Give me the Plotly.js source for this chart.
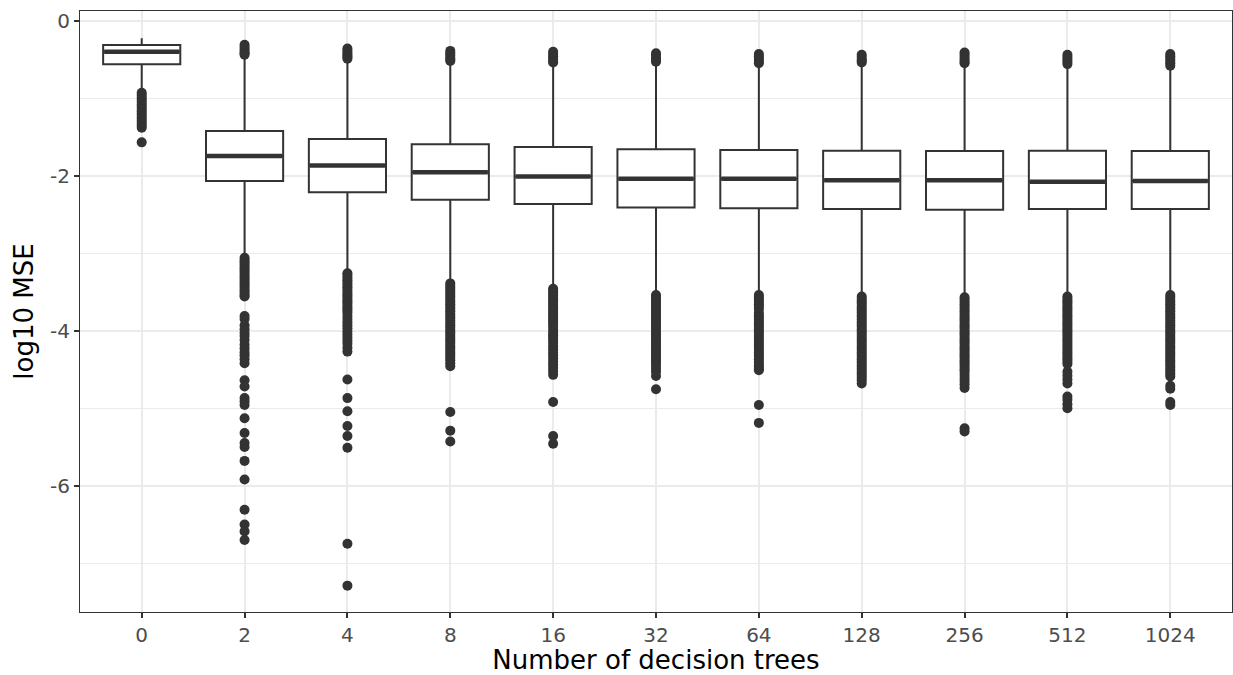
<!DOCTYPE html>
<html>
<head>
<meta charset="utf-8">
<script src="https://cdn.plot.ly/plotly-3.0.1.min.js"></script>
<style>html,body{margin:0;padding:0;background:#fff;}#chart{width:1233px;height:675px;}</style>
</head>
<body>
<div id="chart"></div>
<script>
// ---- data ----
const categories = ["0","2","4","8","16","32","64","128","256","512","1024"];
const q1 =       [-0.553, -2.06, -2.205, -2.30, -2.355, -2.40, -2.41, -2.42, -2.43, -2.42, -2.42];
const medians =  [-0.39, -1.735, -1.86, -1.946, -2.00, -2.028, -2.03, -2.05, -2.05, -2.067, -2.06];
const q3 =       [-0.303, -1.413, -1.516, -1.585, -1.62, -1.65, -1.66, -1.667, -1.67, -1.667, -1.67];
const lowerWhisker = [-0.86, -3.00, -3.20, -3.33, -3.40, -3.48, -3.48, -3.50, -3.51, -3.50, -3.48];
const upperWhisker = [-0.217, -0.47, -0.52, -0.55, -0.57, -0.56, -0.58, -0.57, -0.58, -0.59, -0.61];

const outliers = [
  // 0
  [-0.92,-0.95,-0.98,-1.01,-1.04,-1.07,-1.10,-1.13,-1.16,-1.19,-1.22,-1.25,-1.28,-1.31,-1.34,-1.37,-1.56],
  // 2
  [-0.30,-0.33,-0.36,-0.39,-0.41,-0.43,
   -3.05,-3.08,-3.11,-3.14,-3.17,-3.20,-3.23,-3.26,-3.29,-3.32,-3.35,-3.38,-3.41,-3.44,-3.47,-3.50,-3.53,-3.55,
   -3.80,-3.84,-3.92,-3.97,-4.02,-4.06,-4.11,-4.17,-4.22,-4.27,-4.31,-4.36,-4.41,
   -4.63,-4.71,-4.86,-4.90,-4.95,-5.12,-5.31,-5.44,-5.49,-5.67,-5.91,-6.30,-6.49,-6.58,-6.69],
  // 4
  [-0.35,-0.38,-0.41,-0.44,-0.46,-0.48,
   -3.25,-3.28,-3.31,-3.34,-3.37,-3.40,-3.43,-3.46,-3.49,-3.52,-3.55,-3.58,-3.61,-3.64,-3.67,-3.70,-3.73,-3.76,-3.80,-3.84,-3.88,-3.92,-3.96,-4.00,-4.04,-4.08,-4.12,-4.16,-4.21,-4.26,
   -4.62,-4.86,-5.03,-5.22,-5.35,-5.50,-6.74,-7.28],
  // 8
  [-0.38,-0.41,-0.44,-0.47,-0.49,-0.51,
   -3.38,-3.41,-3.44,-3.47,-3.50,-3.53,-3.56,-3.59,-3.62,-3.65,-3.68,-3.71,-3.74,-3.77,-3.80,-3.83,-3.86,-3.89,-3.92,-3.95,-3.98,-4.01,-4.04,-4.07,-4.10,-4.13,-4.16,-4.19,-4.22,-4.25,-4.28,-4.31,-4.34,-4.37,-4.41,-4.45,
   -5.04,-5.28,-5.42],
  // 16
  [-0.39,-0.42,-0.45,-0.48,-0.51,-0.53,
   -3.45,-3.48,-3.51,-3.54,-3.57,-3.60,-3.63,-3.66,-3.69,-3.72,-3.75,-3.78,-3.81,-3.84,-3.87,-3.90,-3.94,-3.98,-4.02,-4.05,-4.08,-4.11,-4.15,-4.19,-4.23,-4.27,-4.31,-4.35,-4.39,-4.43,-4.47,-4.51,-4.56,
   -4.91,-5.35,-5.45],
  // 32
  [-0.41,-0.44,-0.47,-0.50,-0.52,
   -3.53,-3.56,-3.59,-3.62,-3.65,-3.68,-3.71,-3.74,-3.77,-3.80,-3.83,-3.86,-3.89,-3.92,-3.95,-3.98,-4.01,-4.04,-4.07,-4.10,-4.13,-4.16,-4.19,-4.22,-4.25,-4.28,-4.31,-4.34,-4.37,-4.40,-4.44,-4.48,-4.52,-4.575,-4.745],
  // 64
  [-0.42,-0.45,-0.48,-0.51,-0.54,
   -3.53,-3.56,-3.59,-3.62,-3.65,-3.68,-3.71,-3.76,-3.79,-3.82,-3.85,-3.88,-3.91,-3.94,-3.97,-4.00,-4.03,-4.06,-4.09,-4.12,-4.15,-4.18,-4.21,-4.24,-4.27,-4.30,-4.33,-4.36,-4.39,-4.42,-4.45,-4.48,-4.50,
   -4.95,-5.18],
  // 128
  [-0.43,-0.46,-0.49,-0.51,-0.53,
   -3.55,-3.58,-3.61,-3.64,-3.67,-3.70,-3.73,-3.76,-3.79,-3.82,-3.85,-3.88,-3.91,-3.94,-3.97,-4.00,-4.03,-4.06,-4.09,-4.12,-4.15,-4.18,-4.21,-4.24,-4.27,-4.30,-4.33,-4.36,-4.39,-4.42,-4.45,-4.48,-4.51,-4.54,-4.57,-4.60,-4.63,-4.67],
  // 256
  [-0.40,-0.43,-0.46,-0.49,-0.52,-0.54,
   -3.56,-3.59,-3.62,-3.65,-3.68,-3.71,-3.74,-3.77,-3.80,-3.83,-3.86,-3.89,-3.92,-3.95,-3.98,-4.01,-4.04,-4.07,-4.10,-4.13,-4.16,-4.19,-4.22,-4.25,-4.28,-4.31,-4.34,-4.37,-4.40,-4.43,-4.46,-4.49,-4.52,-4.56,-4.60,-4.64,-4.68,-4.73,
   -5.25,-5.29],
  // 512
  [-0.43,-0.46,-0.49,-0.52,-0.55,
   -3.55,-3.58,-3.61,-3.64,-3.67,-3.70,-3.73,-3.76,-3.79,-3.82,-3.85,-3.88,-3.91,-3.94,-3.97,-4.00,-4.03,-4.06,-4.09,-4.12,-4.15,-4.18,-4.21,-4.24,-4.27,-4.30,-4.33,-4.36,-4.39,-4.42,
   -4.52,-4.57,-4.62,-4.67,-4.84,-4.88,-4.94,-4.99],
  // 1024
  [-0.42,-0.45,-0.48,-0.51,-0.54,-0.57,
   -3.53,-3.56,-3.59,-3.62,-3.65,-3.68,-3.71,-3.74,-3.77,-3.80,-3.83,-3.86,-3.89,-3.92,-3.95,-3.98,-4.01,-4.04,-4.07,-4.10,-4.13,-4.16,-4.19,-4.22,-4.25,-4.28,-4.31,-4.34,-4.37,-4.40,-4.43,-4.46,-4.49,-4.52,-4.55,-4.58,
   -4.70,-4.74,-4.91,-4.95]
];

const yTickVals = [-6, -4, -2, 0];
const yTickText = ["-6", "-4", "-2", "0"];
const yMinorVals = [-7, -5, -3, -1];

const xTitle = "Number of decision trees";
const yTitle = "log10 MSE";

// ---- drawing ----
const ink = "#333333";
const idx = categories.map((c, i) => i);
const boxWidth = 0.75;

const traces = [];

// outliers
const ox = [], oy = [];
outliers.forEach((arr, i) => arr.forEach(v => { ox.push(i); oy.push(v); }));
traces.push({
  type: "scatter", mode: "markers", x: ox, y: oy,
  marker: { color: ink, size: 10, line: { width: 0 } },
  hoverinfo: "y", showlegend: false
});

// boxes
traces.push({
  type: "box",
  x: idx,
  q1: q1, median: medians, q3: q3,
  lowerfence: lowerWhisker, upperfence: upperWhisker,
  width: boxWidth,
  whiskerwidth: 0,
  fillcolor: "#FFFFFF",
  line: { color: ink, width: 2 },
  boxpoints: false,
  showlegend: false
});

// thick median bars
const mx = [], my = [];
medians.forEach((m, i) => { mx.push(i - boxWidth / 2 + 0.01, i + boxWidth / 2 - 0.01, null); my.push(m, m, null); });
traces.push({
  type: "scatter", mode: "lines", x: mx, y: my,
  line: { color: ink, width: 4.5 }, hoverinfo: "skip", showlegend: false
});

const layout = {
  width: 1233, height: 675,
  margin: { l: 80, r: 1, t: 11, b: 63 },
  paper_bgcolor: "#FFFFFF", plot_bgcolor: "#FFFFFF",
  font: { family: "DejaVu Sans, sans-serif", color: "#4D4D4D" },
  showlegend: false,
  xaxis: {
    range: [-0.6, 10.6],
    tickmode: "array", tickvals: idx, ticktext: categories,
    tickfont: { size: 20, color: "#4D4D4D" },
    ticks: "outside", ticklen: 5, tickwidth: 2, tickcolor: ink,
    showgrid: true, gridcolor: "#EBEBEB", gridwidth: 2,
    zeroline: false,
    showline: true, mirror: true, linecolor: ink, linewidth: 1,
    title: { text: xTitle, font: { size: 26, color: "#000000" }, standoff: 6 },
    automargin: false
  },
  yaxis: {
    range: [-7.62, 0.135],
    tickmode: "array", tickvals: yTickVals, ticktext: yTickText,
    tickfont: { size: 20, color: "#4D4D4D" },
    ticks: "outside", ticklen: 5, tickwidth: 2, tickcolor: ink,
    showgrid: true, gridcolor: "#EBEBEB", gridwidth: 2,
    minor: { tickmode: "array", tickvals: yMinorVals, showgrid: true, gridcolor: "#EBEBEB", gridwidth: 1, ticks: "" },
    zeroline: false,
    showline: true, mirror: true, linecolor: ink, linewidth: 1,
    title: { text: yTitle, font: { size: 26, color: "#000000" }, standoff: 8 },
    automargin: false
  }
};

Plotly.newPlot("chart", traces, layout, { displayModeBar: false, staticPlot: true });
</script>
</body>
</html>
